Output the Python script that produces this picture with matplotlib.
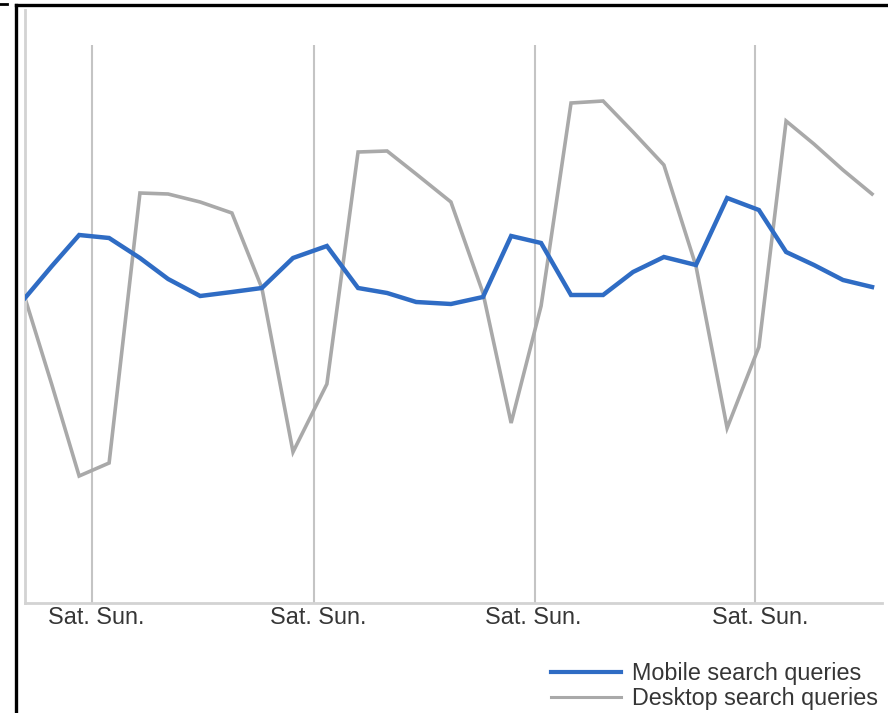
import matplotlib
matplotlib.use('Agg')
import matplotlib.pyplot as plt
from matplotlib.lines import Line2D

# Day positions of the data points (in days from the first point)
day = [0, 0.89, 1.79, 2.78, 3.80, 4.73, 5.79, 6.84, 7.83, 8.86, 9.98, 11.01,
       11.97, 12.93, 14.08, 15.14, 16.07, 17.06, 18.05, 19.11, 20.10, 21.12,
       22.18, 23.21, 24.26, 25.16, 26.08, 27.04, 28.00]

# Relative query volume (arbitrary units)
mobile = [305, 337, 368, 365, 345, 324, 307, 311, 315, 345, 357, 315, 310,
          301, 299, 306, 367, 360, 308, 308, 331, 346, 338, 405, 393, 351,
          338, 323, 316]
desktop = [305, 218, 127, 140, 410, 409, 401, 390, 315, 151, 219, 451, 452,
           429, 401, 310, 180, 297, 500, 502, 471, 438, 337, 175, 256, 482,
           459, 433, 409]

# Weekend markers (between Saturday and Sunday) and their labels
weekend = [2.21, 9.55, 16.86, 24.13]
label_pos = [2.35, 9.69, 16.79, 24.30]
weekend_labels = ["Sat. Sun."] * 4
series_labels = ["Mobile search queries", "Desktop search queries"]

plt.rcParams['font.family'] = ['Liberation Sans', 'DejaVu Sans']
TXT = '#363636'
FS = 16.8

W, H = 888, 713
fig = plt.figure(figsize=(W / 100, H / 100), dpi=100)
fig.patch.set_facecolor('white')

ax = fig.add_axes([25 / W, (H - 603) / H, (882 - 25) / W, (603 - 10) / H])
ax.set_xlim(0, 28.33)
ax.set_ylim(0, 593)

ax.vlines(weekend, 0, 558, colors='#c4c4c4', linewidth=1.5, zorder=1)
ax.plot(day, desktop, color='#a9a9a9', linewidth=2.6, zorder=2,
        solid_joinstyle='miter')
ax.plot(day, mobile, color='#2f6cc4', linewidth=3.2, zorder=3,
        solid_joinstyle='miter')

for s in ['top', 'right']:
    ax.spines[s].set_visible(False)
for s in ['left', 'bottom']:
    ax.spines[s].set_color('#d3d3d3')
    ax.spines[s].set_linewidth(2)

ax.set_yticks([])
ax.set_xticks(label_pos)
ax.set_xticklabels(weekend_labels, fontsize=FS, color=TXT)
ax.tick_params(axis='x', length=0, pad=2.5)

handles = [Line2D([], [], color='#2f6cc4', linewidth=3),
           Line2D([], [], color='#a9a9a9', linewidth=2.2)]
fig.legend(handles, series_labels, loc='upper left',
           bbox_to_anchor=(551 / W, (H - 662) / H), frameon=False,
           fontsize=FS, labelcolor=TXT, handlelength=3.0, handletextpad=0.45,
           labelspacing=0.1, borderpad=0, borderaxespad=0)

# Black frame of the original picture
fig.add_artist(Line2D([16 / W, 1.0], [(H - 5) / H, (H - 5) / H],
                      transform=fig.transFigure, color='black', linewidth=2.4))
fig.add_artist(Line2D([16 / W, 16 / W], [0, (H - 5) / H],
                      transform=fig.transFigure, color='black', linewidth=2.4))
fig.add_artist(Line2D([0, 7 / W], [(H - 4) / H, (H - 4) / H],
                      transform=fig.transFigure, color='black', linewidth=2))

fig.savefig('out.png', dpi=100, facecolor='white')
